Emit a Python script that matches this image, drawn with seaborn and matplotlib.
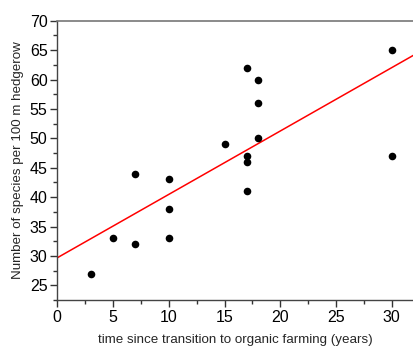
import numpy as np
import pandas as pd
import matplotlib
matplotlib.use('Agg')
import matplotlib.pyplot as plt
import seaborn as sns
from matplotlib.ticker import MultipleLocator

# Datos
years = [3, 5, 7, 7, 10, 10, 10, 15, 17, 17, 17, 17, 18, 18, 18, 30, 30]
species = [27, 33, 44, 32, 43, 38, 33, 49, 62, 47, 46, 41, 60, 56, 50, 65, 47]

df = pd.DataFrame({'years': years, 'species': species})

sns.set_style('ticks')
plt.rcParams['font.family'] = ['Liberation Sans', 'DejaVu Sans']

fig = plt.figure(figsize=(4.14, 3.47), dpi=100)
ax = fig.add_axes([0.1384, 0.1354, 0.8616, 0.8049])
ax.set_xlim(0, 32)
ax.set_ylim(22.5, 70)

sns.scatterplot(data=df, x='years', y='species', color='black', s=30,
                edgecolor='black', linewidth=0, ax=ax, zorder=3)
sns.regplot(data=df, x='years', y='species', scatter=False, ci=None,
            truncate=False, color='red', line_kws={'linewidth': 1.1}, ax=ax)
ax.set_xlim(0, 32)
ax.set_ylim(22.5, 70)

ax.xaxis.set_major_locator(MultipleLocator(5))
ax.xaxis.set_minor_locator(MultipleLocator(2.5))
ax.yaxis.set_major_locator(MultipleLocator(5))
ax.yaxis.set_minor_locator(MultipleLocator(2.5))
ax.set_yticks(range(25, 71, 5))

ax.tick_params(which='major', direction='out', length=5, width=1, colors='#333333',
               labelsize=11.5, labelcolor='black', pad=2)
ax.tick_params(which='minor', direction='out', length=3, width=1, colors='#333333')

ax.spines['right'].set_visible(False)
for side in ['left', 'bottom']:
    ax.spines[side].set_color('#444444')
    ax.spines[side].set_linewidth(1)
ax.spines['top'].set_color('#777777')
ax.spines['top'].set_linewidth(1.2)

ax.set_xlabel('time since transition to organic farming (years)', fontsize=9.6, labelpad=7)
ax.set_ylabel('Number of species per 100 m hedgerow', fontsize=9.6, labelpad=4)

fig.savefig('out.png', dpi=100)
